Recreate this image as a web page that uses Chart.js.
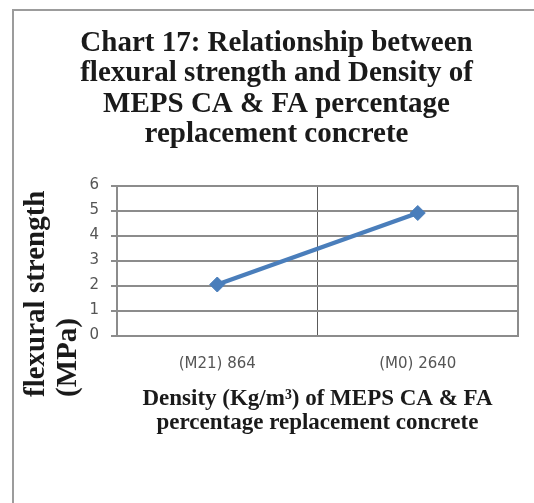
<!DOCTYPE html>
<html>
<head>
<meta charset="utf-8">
<script src="https://cdn.jsdelivr.net/npm/chart.js@4/dist/chart.umd.min.js"></script>
<style>
  html, body { margin: 0; padding: 0; background: #ffffff; }
  #wrap { position: relative; width: 534px; height: 503px; overflow: hidden; }
  #frame {
    position: absolute; left: 12px; top: 9px; width: 600px; height: 600px;
    border-top: 2px solid #9c9c9c; border-left: 2px solid #9c9c9c;
  }
  #chart { position: absolute; left: 0; top: 0; }
</style>
</head>
<body>
<div id="wrap">
  <div id="frame"></div>
  <canvas id="chart" width="534" height="503"></canvas>
</div>
<script>
// Mix labels on the category axis: mix id and density in kg/m³
const categories = ['(M21) 864', '(M0) 2640'];
// Flexural strength (MPa) for each mix
const flexuralStrength = [2.04, 4.9];

// Value axis range and step
const yMin = 0;
const yMax = 6;
const yStep = 1;

const chartTitleLines = [
  'Chart 17: Relationship between',
  'flexural strength and Density of',
  'MEPS CA & FA percentage',
  'replacement concrete'
];
const xTitleLines = [
  'Density (Kg/m\u00B3) of MEPS CA & FA',
  'percentage replacement concrete'
];
const yTitleLines = ['flexural strength', '(MPa)'];

const serif = '"Liberation Serif", "Times New Roman", serif';
const sans = '"DejaVu Sans", sans-serif';
const gridGrey = '#8c8c8c';
const textDark = '#1a1a1a';
const tickGrey = '#555555';

// Rotated, bottom-anchored value-axis title
const yTitlePlugin = {
  id: 'yTitle',
  afterDraw(chart) {
    const { ctx, chartArea } = chart;
    ctx.save();
    ctx.font = 'bold 29px ' + serif;
    ctx.fillStyle = textDark;
    ctx.textAlign = 'left';
    ctx.textBaseline = 'alphabetic';
    yTitleLines.forEach((line, i) => {
      ctx.save();
      ctx.translate(chartArea.left - 73 + i * 32, chartArea.bottom + 61.5);
      ctx.rotate(-Math.PI / 2);
      ctx.fillText(line, 0, 0);
      ctx.restore();
    });
    ctx.restore();
  }
};

new Chart(document.getElementById('chart'), {
  type: 'line',
  data: {
    labels: categories,
    datasets: [{
      label: 'flexural strength',
      data: flexuralStrength,
      borderColor: '#4a7ebb',
      backgroundColor: '#4a7ebb',
      borderWidth: 4.5,
      tension: 0,
      pointStyle: 'rectRot',
      pointRadius: 7.5,
      pointBorderWidth: 1,
      pointBackgroundColor: '#4a7ebb',
      pointBorderColor: '#4a7ebb',
      clip: false
    }]
  },
  options: {
    responsive: false,
    animation: false,
    devicePixelRatio: 1,
    layout: { padding: { left: 35, right: 16, top: 0, bottom: 0 } },
    plugins: {
      legend: { display: false },
      tooltip: { enabled: false },
      title: {
        display: true,
        text: chartTitleLines,
        color: textDark,
        font: { family: serif, size: 29, weight: 'bold', lineHeight: '30.5px' },
        padding: { top: 28, bottom: 35.5 }
      }
    },
    scales: {
      x: {
        type: 'category',
        offset: true,
        grid: {
          offset: true,
          drawTicks: false,
          color: (c) => (c.index === 1 ? '#5a5a5a' : gridGrey),
          lineWidth: (c) => (c.index === 1 ? 1 : 2)
        },
        border: { color: gridGrey, width: 2 },
        ticks: {
          padding: 20,
          color: tickGrey,
          font: { family: sans, size: 15 }
        },
        title: {
          display: true,
          text: xTitleLines,
          color: textDark,
          font: { family: serif, size: 23, weight: 'bold', lineHeight: '24px' },
          padding: { top: 0, bottom: 68 }
        },
        afterFit(scale) { scale.height = 167.5; }
      },
      y: {
        min: yMin,
        max: yMax,
        ticks: {
          stepSize: yStep,
          padding: 12,
          color: tickGrey,
          font: { family: sans, size: 15 }
        },
        grid: { color: gridGrey, lineWidth: 2, tickLength: 6 },
        border: { color: gridGrey, width: 2 },
        afterFit(scale) { scale.width = 82; }
      }
    }
  },
  plugins: [yTitlePlugin]
});
</script>
</body>
</html>
